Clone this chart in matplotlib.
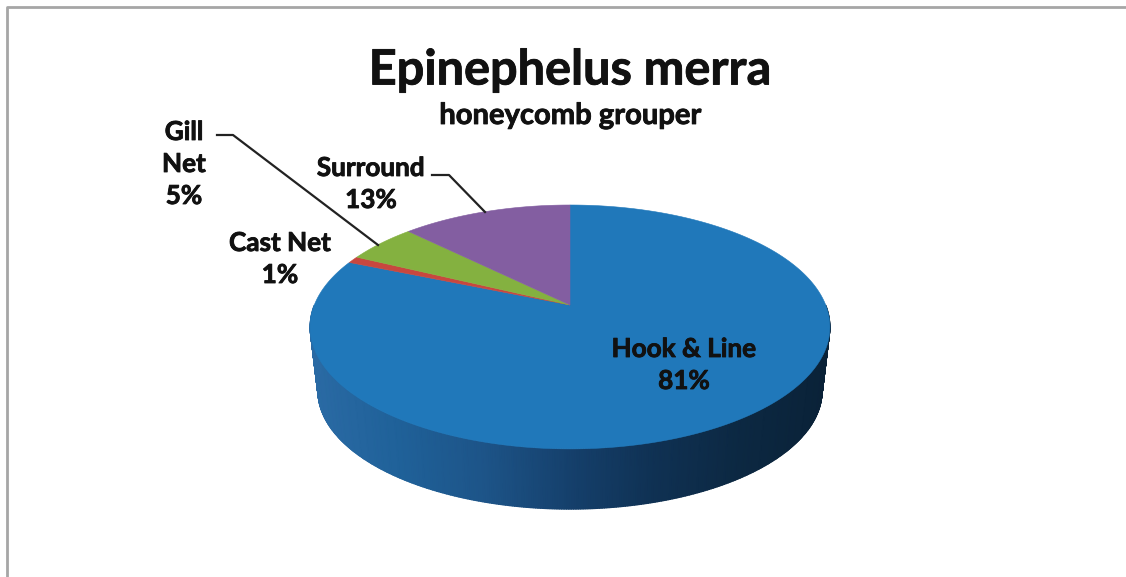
import numpy as np
import matplotlib
matplotlib.use("Agg")
import matplotlib.pyplot as plt
import matplotlib.patheffects as pe
from matplotlib.colors import LinearSegmentedColormap

categories = ["Hook & Line", "Cast Net", "Gill Net", "Surround"]
shares = [81.3, 0.9, 5.2, 12.6]
colors = ["#2078ba", "#c8473f", "#84b140", "#835ea1"]
title = "Epinephelus merra"
subtitle = "honeycomb grouper"

W, H = 1126, 577
plt.rcParams["font.family"] = ["Lato", "DejaVu Sans"]
fig = plt.figure(figsize=(W / 100, H / 100), dpi=100, facecolor="white")
ax = fig.add_axes([0, 0, 1, 1])
ax.set_xlim(0, W)
ax.set_ylim(H, 0)
ax.axis("off")

CX, CY, A, B, K = 570, 305, 255.7, 118, 0.18
MIDY, SHRINK, DROP = 325, 0.97, 64


def project(theta):
    """theta clockwise from 12 o'clock, on the unit disc edge, with perspective."""
    u, v = np.sin(theta), np.cos(theta)
    w = 1 + K * v
    return CX + A * u / w, CY - B * v / w


# side wall, shaded along the front rim; the lower rim is slightly smaller
side = LinearSegmentedColormap.from_list(
    "side", ["#2a6aa4", "#1f6199", "#1d5488", "#15406c", "#0f3153", "#0c2842", "#0a2238"])
t = np.linspace(np.pi * 0.5, np.pi * 1.5, 400)
xr, yr = project(t)
xb = CX + (xr - CX) * SHRINK
yb = MIDY + DROP + (yr - MIDY) * SHRINK
xs = np.vstack([xr, xb])
ys = np.vstack([yr, yb])
z = np.vstack([(xr - xr.min()) / (xr.max() - xr.min())] * 2)
ax.pcolormesh(xs, ys, z, cmap=side, shading="gouraud", zorder=1, rasterized=True)

# top face: wedges run clockwise from 12 o'clock
fractions = np.array(shares, dtype=float) / sum(shares)
edges = np.concatenate([[0], np.cumsum(fractions)]) * 2 * np.pi
for start, stop, c in zip(edges[:-1], edges[1:], colors):
    th = np.linspace(start, stop, max(int((stop - start) * 120), 8))
    x, y = project(th)
    ax.fill(np.r_[CX, x], np.r_[CY, y], color=c, lw=0.4, zorder=2)

# frame: top and left edges only
ax.plot([7, 7, W], [H, 6.5, 6.5], color="#a6a6a6", lw=2, zorder=0)

# leader lines
ax.plot([217, 233, 378], [135, 135, 245], color="#222222", lw=1.6, zorder=3)
ax.plot([432, 449, 485], [175, 175, 212], color="#222222", lw=1.6, zorder=3)

thick = [pe.withStroke(linewidth=0.6, foreground="#111111")]
tk = dict(ha="center", va="center", fontweight="bold", color="#111111",
          linespacing=1.4, path_effects=thick)
pct = [f"{v:.0f}%" for v in shares]
ax.text(570, 70, title, fontsize=35, **tk)
ax.text(570, 116, subtitle, fontsize=21, **tk)
ax.text(184, 164, f"Gill\nNet\n{pct[2]}", fontsize=18.8, **tk)
ax.text(371, 184, f"{categories[3]}\n{pct[3]}", fontsize=18.8, **tk)
ax.text(280, 259, f"{categories[1]}\n{pct[1]}", fontsize=18.8, **tk)
ax.text(684, 365, f"{categories[0]}\n{pct[0]}", fontsize=18.8, **tk)

fig.savefig("out.png", dpi=100, facecolor="white")
